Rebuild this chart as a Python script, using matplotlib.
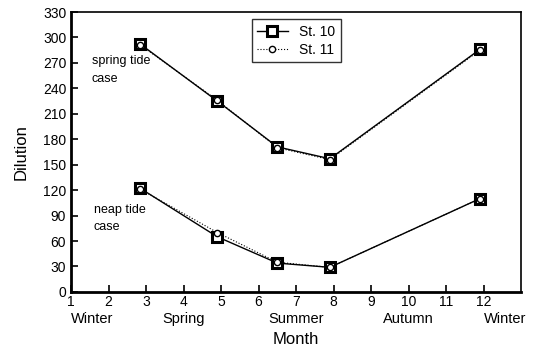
import matplotlib
matplotlib.use("Agg")
import matplotlib.pyplot as plt

plt.rcParams['font.family'] = ['Liberation Sans', 'DejaVu Sans']

months = [2.85, 4.9, 6.5, 7.9, 11.9]
st10_spring = [292, 225, 171, 157, 286]
st11_spring = [291, 226, 170, 156, 285]
st10_neap = [122, 65, 34, 29, 110]
st11_neap = [121, 70, 35, 29, 110]

xticks = list(range(1, 13))
yticks = list(range(0, 331, 30))
seasons = [(1, "Winter", "left"), (4, "Spring", "center"), (7, "Summer", "center"),
           (10, "Autumn", "center"), (12, "Winter", "left")]

fig = plt.figure(figsize=(5.34, 3.53), dpi=100)
ax = fig.add_axes([0.133, 0.173, 0.843, 0.793])

sq = dict(marker='s', markersize=7, markerfacecolor='white', markeredgecolor='black',
          markeredgewidth=2.2, color='black', linewidth=1)
ci = dict(marker='o', markersize=4.5, markerfacecolor='white', markeredgecolor='black',
          markeredgewidth=1, color='black', linewidth=0.8, linestyle=':')

ax.plot(months, st10_spring, label='St. 10', **sq)
ax.plot(months, st11_spring, label='St. 11', **ci)
ax.plot(months, st10_neap, **sq)
ax.plot(months, st11_neap, **ci)

ax.set_xlim(1, 13)
ax.set_ylim(0, 330)
ax.set_xticks(xticks)
ax.set_yticks(yticks)
ax.tick_params(direction='in', length=5, width=1.2, labelsize=10)
ax.tick_params(axis='x', pad=2)
for s in ax.spines.values():
    s.set_linewidth(1.2)
ax.spines['left'].set_linewidth(2)
ax.spines['bottom'].set_linewidth(2)

for x, t, ha in seasons:
    ax.text(x, -0.07, t, transform=ax.get_xaxis_transform(), ha=ha, va='top', fontsize=10.5)

ax.text(1.55, 272, "spring tide", fontsize=9, va='center')
ax.text(1.55, 251, "case", fontsize=9, va='center')
ax.text(1.6, 96, "neap tide", fontsize=9, va='center')
ax.text(1.6, 76, "case", fontsize=9, va='center')

ax.set_ylabel("Dilution", fontsize=12, labelpad=10)
ax.set_xlabel("Month", fontsize=12, labelpad=17)

leg = ax.legend(loc='upper center', bbox_to_anchor=(0.5, 1.0), fontsize=10, frameon=True,
                fancybox=False, edgecolor='black', handlelength=2.2, borderpad=0.4,
                labelspacing=0.3)
leg.get_frame().set_linewidth(1)

fig.savefig("out.png", dpi=100)
